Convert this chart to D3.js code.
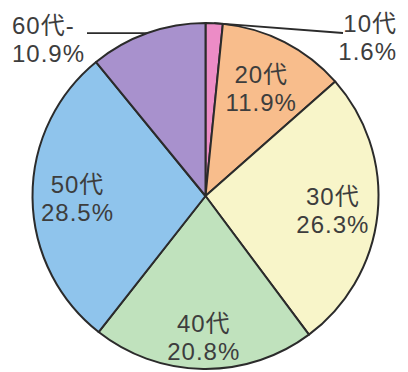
<!DOCTYPE html>
<html>
<head>
<meta charset="utf-8">
<script src="https://cdn.jsdelivr.net/npm/d3@7"></script>
<style>
  html, body { margin: 0; padding: 0; background: #fff; }
  text { font-family: "Liberation Sans", "Noto Sans CJK JP", sans-serif; fill: #3d3d3d; letter-spacing: 1px; }
</style>
</head>
<body>
<svg id="svg_elem"></svg>
<script>
//data
const ageGroups = ['10代', '20代', '30代', '40代', '50代', '60代-'];
const shares = [1.6, 11.9, 26.3, 20.8, 28.5, 10.9];
const sliceColors = ['#ec8cc6', '#f8bd8c', '#f8f5c9', '#c0e2bd', '#8fc4ec', '#a891cd'];

//layout
const svgWidth = 408;
const svgHeight = 372;
const cx = 205.5;
const cy = 196;
const radius = 173;
const fontSize = 24;
const lineGap = 28;

const data = ageGroups.map((g, i) => ({group: g, share: shares[i], color: sliceColors[i]}));

const svg = d3.select('#svg_elem')
  .attr('width', svgWidth)
  .attr('height', svgHeight);

const chart = svg.append('g')
  .attr('transform', `translate(${cx}, ${cy})`);

const pie = d3.pie()
  .value(d => d.share)
  .sort(null);

const arcs = pie(data);

const arcPath = d3.arc()
  .innerRadius(0)
  .outerRadius(radius);

chart.selectAll('.arc')
  .data(arcs)
  .enter()
  .append('path')
    .classed('arc', true)
    .attr('d', arcPath)
    .attr('fill', d => d.data.color)
    .attr('stroke', '#2b2b2b')
    .attr('stroke-width', 2)
    .attr('stroke-linejoin', 'round');

//labels inside big slices
const radiusTweak = {'40代': 140, '20代': 122};

const inside = arcs.filter(d => d.data.share > 5 && d.data.group !== '60代-');

const insideLabels = chart.selectAll('.inner_label')
  .data(inside)
  .enter()
  .append('text')
    .classed('inner_label', true)
    .attr('text-anchor', 'middle')
    .attr('font-size', fontSize)
    .attr('transform', d => {
      const r = radiusTweak[d.data.group] || 128;
      const a = (d.startAngle + d.endAngle) / 2;
      return `translate(${r * Math.sin(a)}, ${-r * Math.cos(a)})`;
    });

insideLabels.append('tspan')
  .attr('x', 0)
  .attr('y', -4)
  .text(d => d.data.group);
insideLabels.append('tspan')
  .attr('x', 0)
  .attr('y', lineGap - 4)
  .text(d => d.data.share.toFixed(1) + '%');

//outside labels with leader lines
const outside = [
  {group: '10代', x: 397, y: 32, anchor: 'end', lineTo: 343},
  {group: '60代-', x: 12, y: 34, anchor: 'start', lineTo: 87}
];

outside.forEach(o => {
  const d = arcs.find(a => a.data.group === o.group);
  const a = (d.startAngle + d.endAngle) / 2;
  const px = radius * Math.sin(a);
  const py = -radius * Math.cos(a);
  chart.append('line')
    .attr('x1', px)
    .attr('y1', py)
    .attr('x2', o.lineTo - cx)
    .attr('y2', (o.group === '60代-' ? py : 33 - cy))
    .attr('stroke', '#2b2b2b')
    .attr('stroke-width', 1.8);

  const t = svg.append('text')
    .attr('text-anchor', o.anchor)
    .attr('font-size', fontSize);
  t.append('tspan')
    .attr('x', o.x)
    .attr('y', o.y)
    .text(d.data.group);
  t.append('tspan')
    .attr('x', o.x)
    .attr('y', o.y + lineGap)
    .text(d.data.share.toFixed(1) + '%');
});
</script>
</body>
</html>
